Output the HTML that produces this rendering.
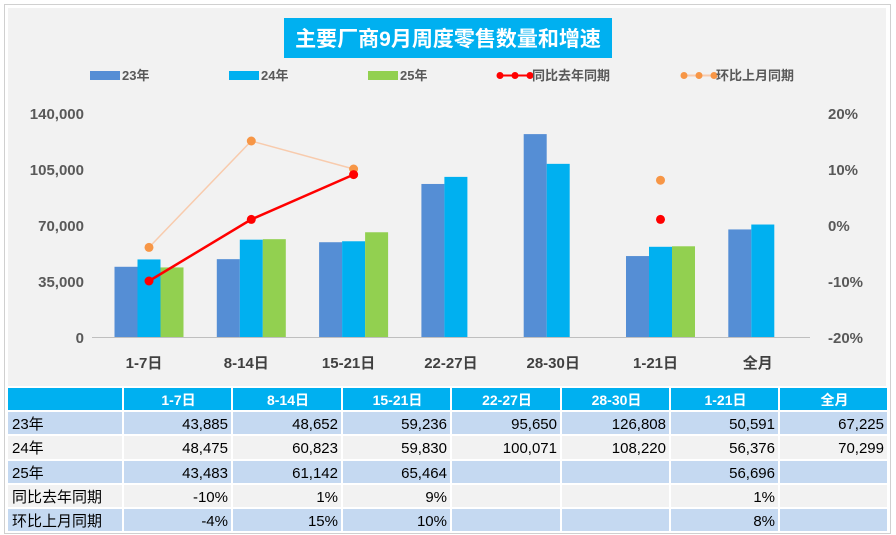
<!DOCTYPE html>
<html><head><meta charset="utf-8"><style>
body{margin:0;width:896px;height:535px;background:#fff;font-family:"Liberation Sans","Noto Sans CJK SC",sans-serif;overflow:hidden}
#frame{position:absolute;left:4px;top:4px;width:885px;height:528px;border:1px solid #d0d0d0;background:#fff}
svg{position:absolute;left:0;top:0}
</style></head><body>
<div id="frame"></div>
<svg id="c" width="896" height="535"></svg>
<script>
const categories=["1-7日","8-14日","15-21日","22-27日","28-30日","1-21日","全月"];
const s23=[43885,48652,59236,95650,126808,50591,67225];
const s24=[48475,60823,59830,100071,108220,56376,70299];
const s25=[43483,61142,65464,null,null,56696,null];
const yoy=[-10,1,9,null,null,1,null];
const mom=[-4,15,10,null,null,8,null];
const leftTicks=[0,35000,70000,105000,140000];
const rightTicks=[-20,-10,0,10,20];
const NS="http://www.w3.org/2000/svg";
const svg=document.getElementById('c');
function el(t,a,txt){const e=document.createElementNS(NS,t);for(const k in a)e.setAttribute(k,a[k]);if(txt!=null)e.textContent=txt;svg.appendChild(e);return e;}
const yL=v=>337-v/140000*224;
const yR=v=>225-v/20*112;
const xC=i=>149+i*102.3;
const fmt=v=>v.toLocaleString('en-US');
let r=el('rect',{x:8,y:8,width:878,height:378,fill:'#f2f2f2'});

r=el('rect',{x:284,y:18,width:328,height:40,fill:'#00b0f0'});

let t=el('text',{x:448,y:46,'text-anchor':'middle','font-size':21,'font-weight':'bold',fill:'#fff'},'主要厂商9月周度零售数量和增速');

const leg=[["23年",'#558ed5','bar',90],["24年",'#00b0f0','bar',229],["25年",'#92d050','bar',368],["同比去年同期",'#ff0000','line',500],["环比上月同期",'#f8cbad','line',684]];
leg.forEach(l=>{
 if(l[2]=='bar'){r=el('rect',{x:l[3],y:71,width:30,height:9,fill:l[1]});}
 else{r=el('line',{x1:l[3],x2:l[3]+30,y1:75.5,y2:75.5,stroke:l[1],'stroke-width':2});
  [0,15,30].forEach(d=>{let c=el('circle',{cx:l[3]+d,cy:75.5,r:3.5,fill:l[1]=='#ff0000'?'#ff0000':'#f79646'});});}
 
 t=el('text',{x:l[3]+32,y:80,'font-size':13,'font-weight':'bold',fill:'#595959'},l[0]);
 
});
leftTicks.forEach(v=>{t=el('text',{x:84,y:yL(v)+6,'text-anchor':'end','font-size':15,'font-weight':'bold',fill:'#595959'},fmt(v));});
rightTicks.forEach(v=>{t=el('text',{x:828,y:yR(v)+6,'font-size':15,'font-weight':'bold',fill:'#595959'},v+'%');});
r=el('line',{x1:92,x2:810,y1:337.5,y2:337.5,stroke:'#bfbfbf'});
categories.forEach((c,i)=>{t=el('text',{x:xC(i)-5,y:368,'text-anchor':'middle','font-size':15,'font-weight':'bold',fill:'#404040'},c);});
[[s23,'#558ed5',-23],[s24,'#00b0f0',0],[s25,'#92d050',23]].forEach(([s,col,off],k)=>{
 s.forEach((v,i)=>{if(v==null)return;
  const b=el('rect',{x:xC(i)+off-11.5,y:yL(v),width:23,height:337-yL(v),fill:col});
  });
});
function line(s,col,mcol,w){
 let seg=[];
 s.forEach((v,i)=>{if(v==null){draw();seg=[];}else seg.push([xC(i),yR(v)]);});draw();
 function draw(){if(seg.length>1){const p=el('polyline',{points:seg.map(p=>p.join(',')).join(' '),fill:'none',stroke:col,'stroke-width':w});}}
 s.forEach((v,i)=>{if(v==null)return;const c=el('circle',{cx:xC(i),cy:yR(v),r:4.5,fill:mcol});});
}
line(mom,'#f8cbad','#f79646',1.5);
line(yoy,'#ff0000','#ff0000',2.5);
const colX=[8,124,233,343,452,562,671,780,889];
const rowY=[388,412,436,461,485,509,533];
const rows=[["23年",s23.map(v=>v==null?'':fmt(v))],["24年",s24.map(v=>v==null?'':fmt(v))],["25年",s25.map(v=>v==null?'':fmt(v))],["同比去年同期",yoy.map(v=>v==null?'':v+'%')],["环比上月同期",mom.map(v=>v==null?'':v+'%')]];
for(let j=0;j<8;j++){r=el('rect',{x:colX[j],y:rowY[0],width:colX[j+1]-colX[j]-2,height:22,fill:'#00b0f0'});
 if(j>0){t=el('text',{x:(colX[j]+colX[j+1])/2,y:rowY[0]+17,'text-anchor':'middle','font-size':14,'font-weight':'bold',fill:'#fff'},categories[j-1]);}}
rows.forEach((row,ri)=>{
 const y=rowY[ri+1],h=rowY[ri+2]-y-2,bg=ri%2==0?'#c5d9f1':'#f2f2f2';
 for(let j=0;j<8;j++){r=el('rect',{x:colX[j],y:y,width:colX[j+1]-colX[j]-2,height:h,fill:bg});}
 t=el('text',{x:12,y:y+17,'font-size':15,fill:'#000'},row[0]);
 row[1].forEach((v,j)=>{if(!v)return;t=el('text',{x:colX[j+2]-5,y:y+17,'text-anchor':'end','font-size':15,fill:'#000'},v);});
});
</script></body></html>
